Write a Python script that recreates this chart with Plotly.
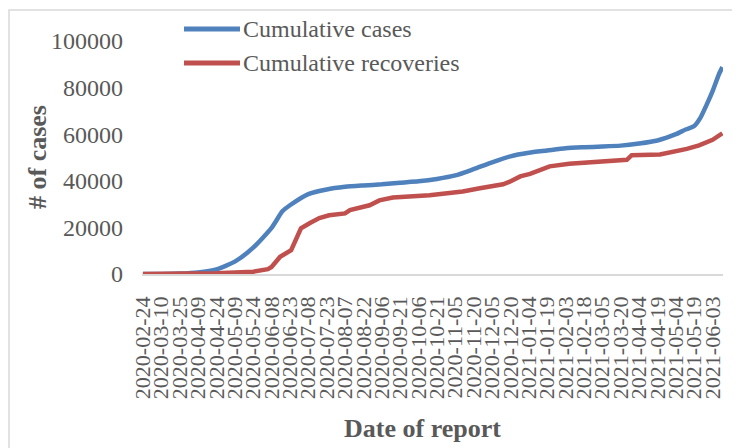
import plotly.graph_objects as go
from datetime import date, timedelta

# ---- data ----
cases_dates = ["2020-02-24", "2020-03-10", "2020-03-25", "2020-04-09", "2020-04-24",
               "2020-05-09", "2020-05-24", "2020-06-08", "2020-06-17", "2020-06-23",
               "2020-07-08", "2020-07-23", "2020-08-07", "2020-08-22", "2020-09-06",
               "2020-09-21", "2020-10-06", "2020-10-21", "2020-11-05", "2020-11-20",
               "2020-12-05", "2020-12-20", "2021-01-04", "2021-01-19", "2021-02-03",
               "2021-02-18", "2021-03-05", "2021-03-20", "2021-04-04", "2021-04-19",
               "2021-05-04", "2021-05-12", "2021-05-19", "2021-05-24", "2021-05-29",
               "2021-06-03", "2021-06-08", "2021-06-11"]
cases_values = [0, 50, 200, 700, 2000,
                5300, 11300, 19800, 27000, 29500,
                34300, 36300, 37400, 38000, 38500,
                39200, 39800, 40800, 42300, 45000,
                47900, 50500, 52000, 53000, 54000,
                54400, 54700, 55100, 56000, 57300,
                60000, 62000, 63500, 67000, 72500,
                78500, 85500, 88800]

recov_dates = ["2020-02-24", "2020-03-25", "2020-04-24", "2020-05-24", "2020-06-05",
               "2020-06-08", "2020-06-15", "2020-06-24", "2020-06-28", "2020-07-02",
               "2020-07-09", "2020-07-17", "2020-07-25", "2020-08-07", "2020-08-11",
               "2020-08-27", "2020-09-04", "2020-09-15", "2020-10-15", "2020-11-11",
               "2020-11-25", "2020-12-14", "2020-12-19", "2020-12-28", "2021-01-05",
               "2021-01-13", "2021-01-21", "2021-02-06", "2021-03-05", "2021-03-25",
               "2021-03-29", "2021-04-21", "2021-05-13", "2021-05-23", "2021-06-03",
               "2021-06-11"]
recov_values = [0, 0, 300, 1000, 2100,
                3000, 7400, 10200, 14500, 19600,
                21800, 24000, 25200, 26000, 27400,
                29500, 31600, 32800, 33800, 35400,
                36800, 38500, 39500, 41900, 43000,
                44500, 46200, 47300, 48500, 49000,
                51000, 51300, 53700, 55200, 57600,
                60400]

series_names = ["Cumulative cases", "Cumulative recoveries"]
series_colors = ["#4F81BD", "#C0504D"]

y_ticks = [0, 20000, 40000, 60000, 80000, 100000]
start = date(2020, 2, 24)
x_tick_vals = [(start + timedelta(days=15 * i)).isoformat() for i in range(32)]
x_tick_text = x_tick_vals

x_title = "Date of report"
y_title = "# of cases"

# ---- figure ----
FONT = "Liberation Serif, Times New Roman, serif"
GREY = "#595959"

# the page body has an 8px margin, so the figure origin sits at page (8, 8)
OFF = 8
FIG_W, FIG_H = 740 - OFF, 448 - OFF

fig = go.Figure()
fig.add_trace(go.Scatter(x=cases_dates, y=cases_values, mode="lines", name=series_names[0],
                         line=dict(color=series_colors[0], width=4.5, shape="spline", smoothing=0.6)))
fig.add_trace(go.Scatter(x=recov_dates, y=recov_values, mode="lines", name=series_names[1],
                         line=dict(color=series_colors[1], width=4.5)))

# plot area in page pixels: x 142..723, y 41..274
L = 142 - OFF
T = 41 - OFF
R = FIG_W - (723 - OFF)
B = FIG_H - (274 - OFF)
W = FIG_W - L - R
H = FIG_H - T - B

def px_x(px):
    return (px - OFF - L) / W

def px_y(py):
    return 1 - (py - OFF - T) / H

fig.update_layout(
    width=FIG_W, height=FIG_H,
    margin=dict(l=L, r=R, t=T, b=B, autoexpand=False),
    paper_bgcolor="white", plot_bgcolor="white",
    showlegend=False,
    font=dict(family=FONT, color=GREY, size=22),
    xaxis=dict(
        type="date", automargin=False,
        range=["2020-02-23 06:00", "2021-06-11 12:00"],
        tickmode="array", tickvals=x_tick_vals, ticktext=x_tick_text,
        tickangle=-90, showgrid=False, zeroline=False,
        showline=True, linecolor="#D9D9D9", linewidth=1.5,
        ticks="", tickfont=dict(size=22, family=FONT, color=GREY),
        ticklabelstandoff=12,
    ),
    yaxis=dict(
        automargin=False,
        range=[0, 100000], tickmode="array", tickvals=y_ticks,
        ticktext=[str(v) for v in y_ticks],
        showgrid=False, zeroline=False, showline=False, ticks="",
        tickfont=dict(size=24, family=FONT, color=GREY),
        ticklabelstandoff=18,
    ),
)

# chart-area border (top and left edges visible)
fig.add_shape(type="rect", xref="paper", yref="paper",
              x0=px_x(9), x1=px_x(760), y0=px_y(470), y1=px_y(10),
              line=dict(color="#D9D9D9", width=1.5), layer="below")

# legend drawn manually
for i, (name, col) in enumerate(zip(series_names, series_colors)):
    yy = px_y(29 + 34 * i)
    fig.add_shape(type="line", xref="paper", yref="paper",
                  x0=px_x(184), x1=px_x(240), y0=yy, y1=yy,
                  line=dict(color=col, width=5))
    fig.add_annotation(xref="paper", yref="paper", x=px_x(241), y=yy,
                       text=name, showarrow=False, xanchor="left", yanchor="middle",
                       font=dict(size=24, family=FONT, color=GREY))

# axis titles
fig.add_annotation(xref="paper", yref="paper", x=px_x(422), y=px_y(428),
                   text="<b>" + x_title + "</b>", showarrow=False,
                   xanchor="center", yanchor="middle",
                   font=dict(size=26, family=FONT, color=GREY))
fig.add_annotation(xref="paper", yref="paper", x=px_x(37), y=px_y(157),
                   text="<b>" + y_title + "</b>", showarrow=False, textangle=-90,
                   xanchor="center", yanchor="middle",
                   font=dict(size=26, family=FONT, color=GREY))

fig.write_html("out.html")
